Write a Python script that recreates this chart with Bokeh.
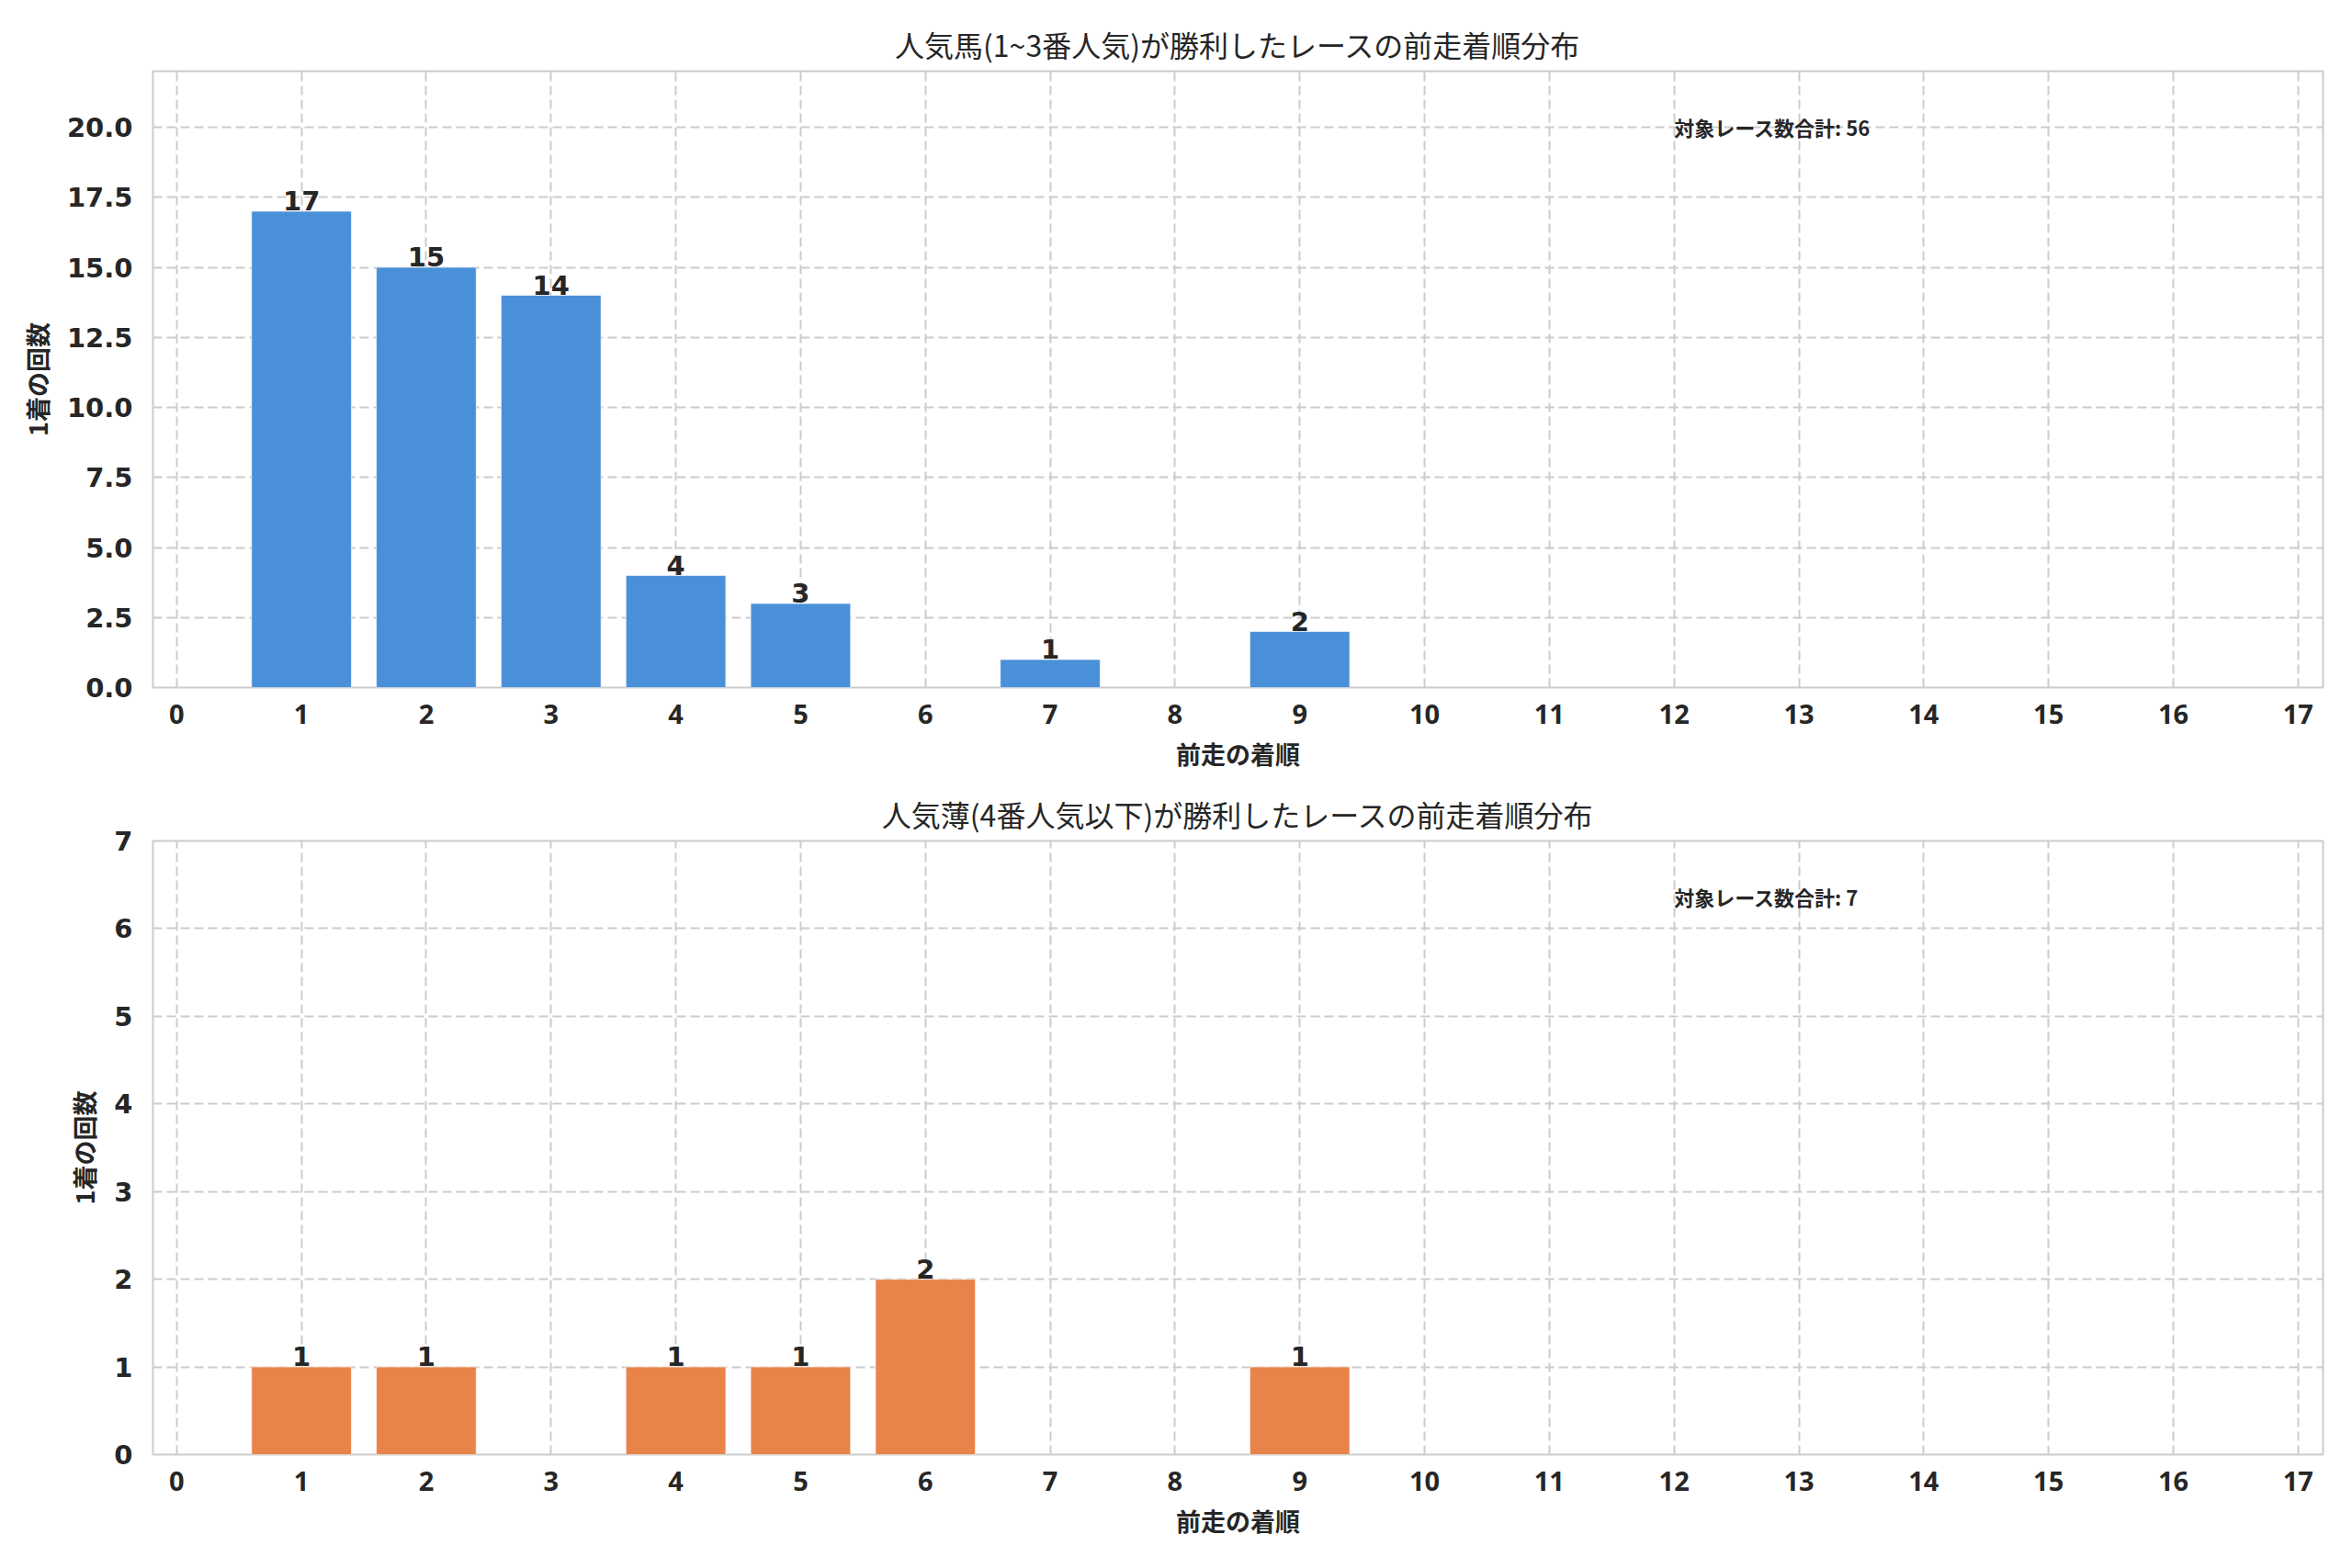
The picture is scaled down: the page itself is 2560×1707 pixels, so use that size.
from bokeh.plotting import figure
from bokeh.layouts import column
from bokeh.models import Range1d, FixedTicker, PrintfTickFormatter, ColumnDataSource, Label
from bokeh.embed import file_html
from bokeh.resources import INLINE

# ---- data ----
x_ticks = list(range(0, 18))
top_positions = [1, 2, 3, 4, 5, 7, 9]
top_counts = [17, 15, 14, 4, 3, 1, 2]
bottom_positions = [1, 2, 4, 5, 6, 9]
bottom_counts = [1, 1, 1, 1, 2, 1]
top_yticks = [0, 2.5, 5, 7.5, 10, 12.5, 15, 17.5, 20]
bottom_yticks = [0, 1, 2, 3, 4, 5, 6, 7]

top_title = "人気馬(1~3番人気)が勝利したレースの前走着順分布"
bottom_title = "人気薄(4番人気以下)が勝利したレースの前走着順分布"
x_label = "前走の着順"
y_label = "1着の回数"
total_label = "対象レース数合計"

CJK = "Noto Sans CJK JP"
TXT = "#262626"


def make(positions, counts, color, title, ymax, yticks, fmt, frame_h, top_b, bot_b):
    p = figure(
        output_backend="svg", toolbar_location=None,
        frame_width=2362, frame_height=frame_h,
        min_border_left=166, min_border_right=22,
        min_border_top=top_b, min_border_bottom=bot_b,
        x_range=Range1d(-0.19, 17.2), y_range=Range1d(0, ymax),
        title=title,
    )
    p.title.align = "center"
    p.title.text_font = CJK
    p.title.text_font_size = "32px"
    p.title.text_font_style = "normal"
    p.title.text_color = TXT
    p.title.standoff = 14

    src = ColumnDataSource(dict(x=positions, top=counts, lab=[str(c) for c in counts]))
    p.vbar(x="x", top="top", width=0.8, bottom=0, source=src,
           fill_color=color, line_color="white", line_alpha=0.6, line_width=1)
    p.text(x="x", y="top", text="lab", source=src, text_align="center",
           text_baseline="bottom", y_offset=-1, text_font_size="29px", text_font_style="bold",
           text_color=TXT, text_font={"value": "DejaVu Sans"})

    total = sum(counts)
    p.add_layout(Label(x=12, y=ymax * 0.91, text=f"{total_label}: {total}",
                       text_baseline="middle", text_align="left",
                       text_font=CJK, text_font_size="22px", text_font_style="bold",
                       text_color=TXT))

    p.xaxis.ticker = FixedTicker(ticks=x_ticks)
    p.yaxis.ticker = FixedTicker(ticks=yticks)
    p.yaxis.formatter = PrintfTickFormatter(format=fmt)
    for ax in (p.xaxis, p.yaxis):
        ax.axis_line_color = None
        ax.major_tick_line_color = None
        ax.minor_tick_line_color = None
        ax.major_tick_out = 0
        ax.major_tick_in = 0
        ax.major_label_text_color = TXT
        ax.major_label_text_font_style = "bold"
        ax.major_label_text_font_size = "29px"
        ax.axis_label_text_font = CJK
        ax.axis_label_text_font_style = "bold"
        ax.axis_label_text_font_size = "27px"
        ax.axis_label_text_color = TXT
        ax.axis_label_standoff = 10
    p.xaxis.major_label_text_font = "Noto Sans"
    p.yaxis.major_label_text_font = "DejaVu Sans"
    p.xaxis.major_label_standoff = 18
    p.yaxis.major_label_standoff = 22
    p.xaxis.axis_label = x_label
    p.yaxis.axis_label = y_label

    p.xgrid.ticker = FixedTicker(ticks=x_ticks)
    p.ygrid.ticker = FixedTicker(ticks=yticks)
    for g in (p.xgrid, p.ygrid):
        g.grid_line_color = "#cccccc"
        g.grid_line_width = 2
        g.grid_line_dash = "10 5"

    p.outline_line_color = "#cccccc"
    p.outline_line_width = 2
    p.background_fill_color = "white"
    p.border_fill_color = "white"
    return p


p1 = make(top_positions, top_counts, "#4a90d9", top_title, 22, top_yticks, "%.1f",
          671, 77, 105)
p2 = make(bottom_positions, bottom_counts, "#e8844a", bottom_title, 7, bottom_yticks, "%d",
          668, 58, 100)

layout = column(p1, p2, spacing=0)
open("out.html", "w").write(file_html(layout, INLINE))
